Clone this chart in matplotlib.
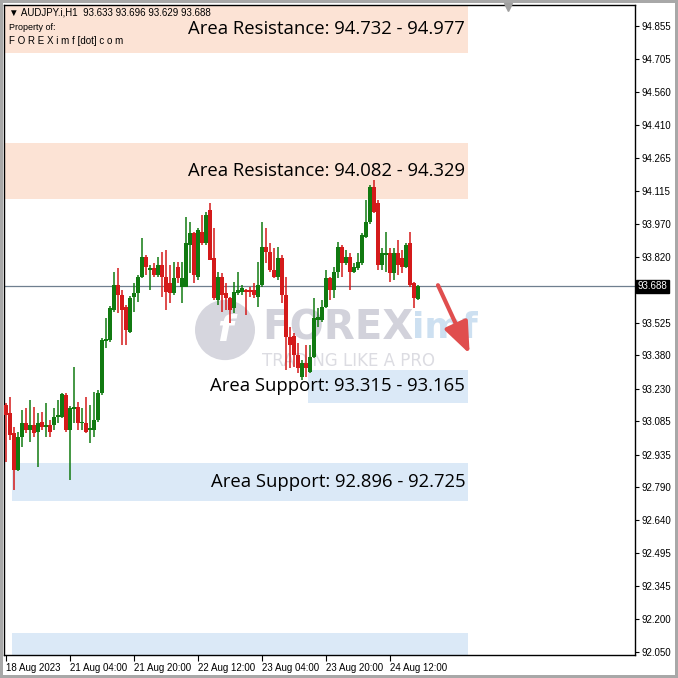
import matplotlib
matplotlib.use('Agg')
import matplotlib.pyplot as plt
import matplotlib.transforms as mtransforms
from matplotlib.patches import Ellipse

# AUDJPY.i H1 candles (prices)
opens = [93.157, 93.121, 93.031, 92.866, 93.013, 93.076, 93.045, 93.067, 93.036, 93.081,
         93.058, 93.067, 93.067, 93.103, 93.103, 93.202, 93.045, 93.139, 93.148, 93.076,
         93.076, 93.045, 93.045, 93.090, 93.211, 93.444, 93.448, 93.583, 93.695, 93.650,
         93.596, 93.484, 93.641, 93.659, 93.730, 93.820, 93.762, 93.771, 93.739, 93.784,
         93.730, 93.704, 93.659, 93.775, 93.686, 93.686, 93.874, 93.928, 93.730, 93.932,
         93.883, 94.031, 93.816, 93.628, 93.730, 93.659, 93.636, 93.592, 93.659, 93.663,
         93.672, 93.672, 93.672, 93.641, 93.695, 93.865, 93.843, 93.762, 93.730, 93.816,
         93.650, 93.462, 93.466, 93.381, 93.283, 93.345, 93.305, 93.372, 93.538, 93.538,
         93.596, 93.726, 93.672, 93.753, 93.865, 93.793, 93.820, 93.753, 93.771, 93.793,
         93.910, 93.977, 94.134, 94.062, 93.784, 93.829, 93.838, 93.748, 93.838, 93.816,
         93.775, 93.883, 93.704, 93.633]
highs = [93.166, 93.193, 93.058, 93.036, 93.135, 93.144, 93.180, 93.148, 93.121, 93.126,
         93.166, 93.090, 93.144, 93.180, 93.211, 93.211, 93.153, 93.327, 93.171, 93.144,
         93.193, 93.157, 93.215, 93.224, 93.457, 93.547, 93.601, 93.753, 93.771, 93.672,
         93.605, 93.645, 93.704, 93.739, 93.905, 93.829, 93.784, 93.793, 93.820, 93.843,
         93.852, 93.784, 93.798, 93.798, 93.798, 93.999, 93.977, 93.932, 93.950, 94.008,
         94.022, 94.062, 93.950, 93.753, 93.748, 93.704, 93.641, 93.708, 93.753, 93.695,
         93.677, 93.686, 93.704, 93.798, 93.977, 93.950, 93.883, 93.860, 93.865, 93.829,
         93.730, 93.507, 93.480, 93.435, 93.359, 93.426, 93.426, 93.636, 93.592, 93.628,
         93.762, 93.730, 93.775, 93.887, 93.874, 93.852, 93.838, 93.793, 93.838, 93.928,
         94.076, 94.143, 94.165, 94.076, 93.860, 93.932, 93.860, 93.860, 93.896, 93.852,
         93.883, 93.932, 93.708, 93.696]
lows = [92.902, 93.000, 92.777, 92.861, 92.969, 93.031, 92.991, 93.013, 92.879, 93.045,
        93.013, 93.013, 93.045, 93.076, 93.099, 93.036, 92.821, 93.076, 93.045, 93.045,
        93.031, 92.986, 93.013, 93.081, 93.202, 93.413, 93.439, 93.574, 93.569, 93.426,
        93.426, 93.480, 93.574, 93.619, 93.726, 93.739, 93.672, 93.730, 93.730, 93.641,
        93.583, 93.614, 93.650, 93.704, 93.614, 93.686, 93.748, 93.704, 93.717, 93.874,
        93.874, 93.807, 93.628, 93.605, 93.574, 93.583, 93.525, 93.569, 93.650, 93.650,
        93.560, 93.641, 93.636, 93.596, 93.686, 93.793, 93.753, 93.726, 93.717, 93.614,
        93.314, 93.323, 93.327, 93.300, 93.269, 93.283, 93.300, 93.368, 93.507, 93.529,
        93.592, 93.628, 93.636, 93.726, 93.730, 93.784, 93.672, 93.748, 93.762, 93.784,
        93.905, 93.968, 94.017, 93.762, 93.762, 93.753, 93.708, 93.717, 93.739, 93.748,
        93.771, 93.686, 93.592, 93.629]
closes = [93.112, 93.022, 92.866, 93.013, 93.076, 93.045, 93.067, 93.031, 93.076, 93.058,
          93.067, 93.036, 93.103, 93.112, 93.206, 93.045, 93.144, 93.148, 93.076, 93.081,
          93.036, 93.054, 93.090, 93.211, 93.448, 93.453, 93.592, 93.695, 93.650, 93.583,
          93.493, 93.636, 93.659, 93.730, 93.820, 93.775, 93.771, 93.739, 93.784, 93.730,
          93.663, 93.659, 93.726, 93.726, 93.726, 93.883, 93.928, 93.739, 93.941, 93.883,
          94.008, 93.807, 93.636, 93.730, 93.650, 93.636, 93.583, 93.663, 93.672, 93.681,
          93.663, 93.663, 93.650, 93.695, 93.865, 93.843, 93.762, 93.730, 93.816, 93.650,
          93.462, 93.426, 93.381, 93.323, 93.345, 93.323, 93.372, 93.547, 93.551, 93.596,
          93.726, 93.672, 93.753, 93.865, 93.793, 93.820, 93.753, 93.775, 93.798, 93.919,
          93.977, 94.134, 94.022, 93.784, 93.838, 93.838, 93.748, 93.838, 93.784, 93.775,
          93.874, 93.695, 93.636, 93.688]

time_labels = ['18 Aug 2023', '21 Aug 04:00', '21 Aug 20:00', '22 Aug 12:00',
               '23 Aug 04:00', '23 Aug 20:00', '24 Aug 12:00']
label_bars = [0, 16, 32, 48, 64, 80, 96]

price_ticks = [94.855, 94.705, 94.560, 94.410, 94.265, 94.115, 93.970, 93.820,
               93.525, 93.380, 93.230, 93.085, 92.935, 92.790, 92.640, 92.495,
               92.345, 92.200, 92.050]

last_price = 93.688

res_zones = [(94.732, 94.977), (94.082, 94.329)]
res_labels = ['Area Resistance: 94.732 - 94.977', 'Area Resistance: 94.082 - 94.329']
sup_zones = [(93.165, 93.315), (92.725, 92.896), (91.900, 92.135)]
sup_labels = ['Area Support: 93.315 - 93.165', 'Area Support: 92.896 - 92.725', '']
sup_start = [75.5, 1.5, 1.5]

RED = '#d41a1a'
GREEN = '#117a11'
TICKFONT = 'Liberation Sans'

fig = plt.figure(figsize=(6.78, 6.78), dpi=100)
fig.patch.set_facecolor('white')
fig.patch.set_edgecolor('#a8a8a8')
fig.patch.set_linewidth(3)
ax = fig.add_axes([4 / 678, 1 - 655 / 678, 631 / 678, 650 / 678])
ax.set_xlim(-0.5, 157.25)
ax.set_ylim(92.037, 94.949)

# zones
zone_end = 115.5
for (lo, hi), lab in zip(res_zones, res_labels):
    ax.fill_between([-0.5, zone_end], lo, hi, color='#fce3d5', lw=0, zorder=0)
    mid = (lo + min(hi, 94.949)) / 2
    ax.text(114.8, mid, lab, ha='right', va='center', fontsize=13.3,
            family='Open Sans', color='black', zorder=5)
for (lo, hi), lab, x0 in zip(sup_zones, sup_labels, sup_start):
    ax.fill_between([x0, zone_end], lo, hi, color='#dbe9f7', lw=0, zorder=0)
    if lab:
        ax.text(114.8, (lo + hi) / 2, lab, ha='right', va='center', fontsize=13.3,
                family='Open Sans', color='black', zorder=5)

# watermark
ax.add_patch(Ellipse((54.75, 93.493), 15, 0.27, color='#d6d6de', lw=0, zorder=1))
ax.text(54.75, 93.49, 'f', ha='center', va='center', fontsize=26, fontweight='bold',
        style='italic', color='white', zorder=1)
ax.text(64, 93.50, 'FOREX', ha='left', va='center', fontsize=29, fontweight='bold',
        color='#d2d2db', zorder=1)
ax.text(101.5, 93.50, 'imf', ha='left', va='center', fontsize=26, fontweight='bold',
        color='#cde0f1', zorder=1)
ax.text(64, 93.355, 'TRADING LIKE A PRO', ha='left', va='center',
        fontsize=12, color='#dcdce2', zorder=1)

# current price line
ax.axhline(last_price, color='#6f7f8f', lw=0.9, zorder=2)

# candles
for i in range(len(opens)):
    o, h, l, c = opens[i], highs[i], lows[i], closes[i]
    col = GREEN if c >= o else RED
    ax.vlines(i, l, h, color=col, lw=1.1, zorder=3)
    ax.bar(i, max(abs(c - o), 0.004), bottom=min(o, c), width=0.82, color=col,
           lw=0, zorder=4)

# arrow
ax.annotate('', xy=(116.2, 93.375), xytext=(107.7, 93.705),
            arrowprops=dict(arrowstyle='-|>,head_width=0.38,head_length=0.95',
                            color='#e04e4e', lw=3, mutation_scale=20),
            zorder=6)

# header texts
ax.text(0.008, 0.996, '\u25bc AUDJPY.i,H1  93.633 93.696 93.629 93.688', transform=ax.transAxes,
        ha='left', va='top', fontsize=7, family=TICKFONT, color='black', zorder=7)
ax.text(0.008, 0.973, 'Property of:', transform=ax.transAxes,
        ha='left', va='top', fontsize=6.5, family=TICKFONT, color='black', zorder=7)
ax.text(0.008, 0.953, 'F O R E X i m f [dot] c o m', transform=ax.transAxes,
        ha='left', va='top', fontsize=7, family=TICKFONT, color='black', zorder=7)

# axes styling
for s in ax.spines.values():
    s.set_color('black')
    s.set_linewidth(1)
ax.yaxis.tick_right()
ax.set_yticks(price_ticks)
ax.set_yticklabels(['%.3f' % p for p in price_ticks], family=TICKFONT)
ax.tick_params(axis='y', direction='out', length=3, width=0.8, pad=2, labelsize=7)
ax.set_xticks(label_bars)
ax.set_xticklabels(time_labels, ha='left', family=TICKFONT)
ax.tick_params(axis='x', direction='out', length=4, width=0.8, pad=2, labelsize=7)

# last price box
trans = mtransforms.blended_transform_factory(ax.transAxes, ax.transData)
ax.text(1.004, last_price, '%.3f' % last_price, transform=trans, ha='left', va='center',
        color='white', fontsize=7, family=TICKFONT, zorder=8,
        bbox=dict(boxstyle='square,pad=0.2', fc='black', ec='black'))

# small shift marker on top
ax.plot([125.5], [94.94], marker='v', color='#a0a0a0', markersize=6, clip_on=False, zorder=8)

fig.savefig('out.png', dpi=100)
